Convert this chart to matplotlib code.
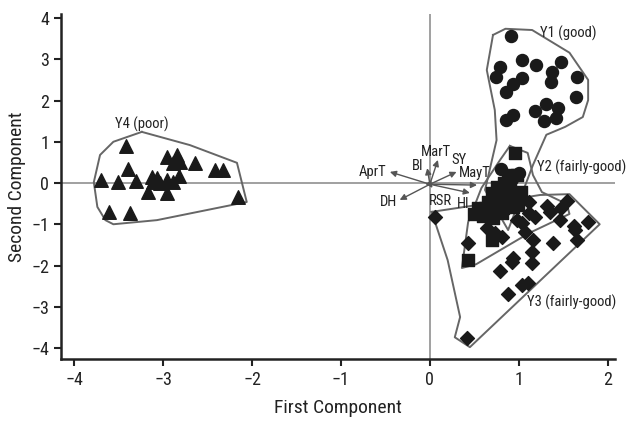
import matplotlib
matplotlib.use("Agg")
import matplotlib.pyplot as plt
from matplotlib import font_manager

names = set(f.name for f in font_manager.fontManager.ttflist)
fam = [n for n in ['Liberation Sans Narrow', 'Roboto Condensed', 'Roboto', 'DejaVu Sans'] if n in names]
plt.rcParams['font.family'] = fam

# scores
y1_x = [0.91, 0.79, 0.74, 1.04, 1.19, 1.47, 1.37, 1.36, 1.04, 0.94, 0.86, 1.66, 1.64,
        1.31, 1.44, 1.18, 0.93, 0.86, 1.28, 1.42, 0.80, 0.92, 1.00]
y1_y = [3.57, 2.82, 2.57, 2.99, 2.86, 2.94, 2.69, 2.45, 2.55, 2.40, 2.21, 2.57, 2.09,
        1.92, 1.82, 1.75, 1.65, 1.53, 1.50, 1.58, 0.35, 0.10, 0.25]

y2_x = [0.96, 0.88, 0.98, 0.83, 0.70, 0.81, 0.92, 1.03, 0.54, 0.62, 0.71, 0.82, 0.93,
        0.99, 0.71, 0.81, 0.70, 0.43, 0.78, 0.88, 0.60, 0.75, 0.90, 1.00, 0.65, 0.50]
y2_y = [0.73, 0.19, 0.19, 0.00, -0.24, -0.29, -0.24, -0.22, -0.61, -0.61, -0.66, -0.61, -0.58,
        -0.53, -0.85, -0.73, -1.38, -1.87, -0.40, -0.45, -0.80, -0.10, -0.05, -0.35, -0.45, -0.75]

y3_x = [1.54, 1.12, 1.35, 1.48, 1.46, 1.78, 1.12, 1.18, 1.04, 1.07, 0.64, 0.73, 0.81,
        1.16, 1.38, 1.63, 1.65, 1.15, 0.93, 0.43, 0.92, 0.79, 0.88, 1.04, 1.10, 0.42,
        0.06, 1.15, 1.62, 1.32, 0.98]
y3_y = [-0.44, -0.46, -0.70, -0.61, -0.90, -0.95, -0.73, -0.83, -0.97, -1.19, -1.09, -1.21, -1.31,
        -1.38, -1.46, -1.14, -1.38, -1.67, -1.82, -1.46, -1.92, -2.14, -2.69, -2.48, -2.43, -3.76,
        -0.83, -1.94, -1.05, -0.55, -0.90]

y4_x = [-3.42, -2.96, -2.84, -2.89, -2.81, -2.64, -2.42, -2.33, -3.40, -3.70, -3.51, -3.30,
        -3.12, -3.07, -3.11, -3.03, -2.96, -2.89, -2.82, -3.17, -2.96, -2.16, -3.61, -3.37]
y4_y = [0.90, 0.63, 0.68, 0.49, 0.51, 0.49, 0.32, 0.32, 0.34, 0.07, 0.02, 0.05,
        0.15, 0.12, 0.02, 0.00, 0.07, 0.02, 0.17, -0.22, -0.24, -0.34, -0.70, -0.73]

# hulls drawn round each group
hull1 = [(0.71, 3.59), (0.85, 3.74), (1.15, 3.71), (1.57, 3.16), (1.78, 2.50), (1.78, 2.01),
         (1.72, 1.60), (1.52, 1.36), (1.31, 1.17), (1.16, 0.44), (1.01, -0.41), (0.88, -1.14),
         (0.62, -0.17), (0.75, 1.04), (0.73, 1.77), (0.64, 2.74)]
hull2 = [(0.90, 0.90), (1.10, 0.73), (1.16, 0.19), (1.26, -0.22), (1.54, -0.51), (1.57, -0.75),
         (1.12, -1.21), (0.52, -1.97), (0.36, -2.06), (0.43, -0.95), (0.58, -0.12), (0.79, 0.56)]
hull3 = [(0.02, -0.70), (0.45, -0.56), (1.24, -0.29), (1.57, -0.27), (1.91, -1.00),
         (0.45, -3.98), (0.28, -3.74), (0.34, -3.25), (0.20, -1.87)]
hull4 = [(-3.24, 1.24), (-3.56, 1.00), (-3.71, 0.68), (-3.78, 0.02), (-3.74, -0.58),
         (-3.65, -0.90), (-3.56, -1.00), (-3.07, -0.90), (-2.06, -0.46), (-2.17, 0.49), (-2.70, 0.92)]

# loadings
var_names = ['AprT', 'BI', 'MarT', 'SY', 'MayT', 'HI', 'DH', 'RSR']
var_x = [-0.45, -0.03, 0.09, 0.30, 0.53, 0.45, -0.34, 0.03]
var_y = [0.27, 0.36, 0.56, 0.27, -0.05, -0.24, -0.41, -0.12]
lab_x = [-0.64, -0.14, 0.07, 0.33, 0.50, 0.37, -0.47, 0.12]
lab_y = [0.27, 0.42, 0.75, 0.57, 0.24, -0.52, -0.46, -0.44]

fig = plt.figure(figsize=(6.28, 4.22), dpi=100)
ax = fig.add_axes([0.097, 0.149, 0.882, 0.818])

ax.axhline(0, color='#999999', lw=1.3, zorder=0)
ax.axvline(0, color='#999999', lw=1.3, zorder=0)

for h in [hull1, hull2, hull3, hull4]:
    hx = [p[0] for p in h] + [h[0][0]]
    hy = [p[1] for p in h] + [h[0][1]]
    ax.plot(hx, hy, color='#666666', lw=1.4, zorder=1)

ax.scatter(y1_x, y1_y, marker='o', s=75, color='#1a1a1a', zorder=3)
ax.scatter(y2_x, y2_y, marker='s', s=75, color='#1a1a1a', zorder=3)
ax.scatter(y3_x, y3_y, marker='D', s=50, color='#1a1a1a', zorder=3)
ax.scatter(y4_x, y4_y, marker='^', s=95, color='#1a1a1a', zorder=3)

for i in range(len(var_names)):
    ax.annotate('', xy=(var_x[i], var_y[i]), xytext=(0, -0.03),
                arrowprops=dict(arrowstyle='-|>', color='#555555', lw=1.0,
                                mutation_scale=9, shrinkA=0, shrinkB=0), zorder=2)
    ax.text(lab_x[i], lab_y[i], var_names[i], fontsize=10.5, ha='center', va='center',
            color='#222222')

ax.text(-3.24, 1.43, 'Y4 (poor)', fontsize=10.5, ha='center', va='center', color='#222222')
ax.text(1.24, 3.64, 'Y1 (good)', fontsize=10.5, ha='left', va='center', color='#222222')
ax.text(1.21, 0.39, 'Y2 (fairly-good)', fontsize=10.5, ha='left', va='center', color='#222222')
ax.text(1.09, -2.89, 'Y3 (fairly-good)', fontsize=10.5, ha='left', va='center', color='#222222')

ax.set_xlim(-4.15, 2.08)
ax.set_ylim(-4.27, 4.10)
ax.set_xticks([-4, -3, -2, -1, 0, 1, 2])
ax.set_yticks([-4, -3, -2, -1, 0, 1, 2, 3, 4])
ax.tick_params(labelsize=13, direction='out', length=5, width=1.5, colors='#222222')
ax.spines['top'].set_visible(False)
ax.spines['right'].set_visible(False)
for s in ['left', 'bottom']:
    ax.spines[s].set_linewidth(1.8)
    ax.spines[s].set_color('#222222')

ax.set_xlabel('First Component', fontsize=14, color='#222222', labelpad=7)
ax.set_ylabel('Second Component', fontsize=14, color='#222222', labelpad=4)

fig.savefig('out.png', dpi=100)
